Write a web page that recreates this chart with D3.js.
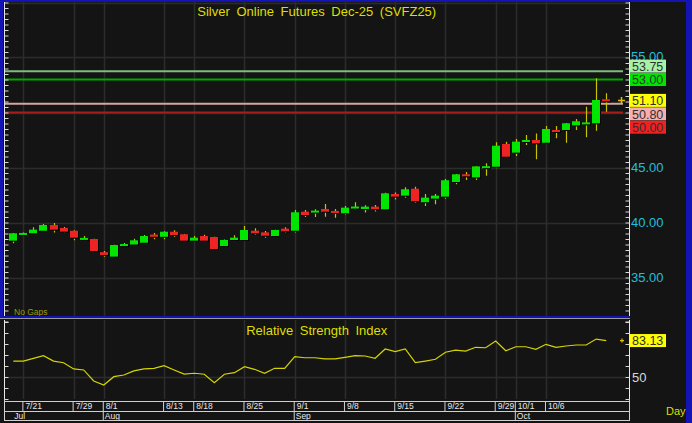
<!DOCTYPE html>
<html><head><meta charset="utf-8">
<script src="https://cdn.jsdelivr.net/npm/d3@7"></script>
<style>html,body{margin:0;padding:0;background:#141414;overflow:hidden}svg{display:block}</style>
</head><body><svg id="c" width="692" height="423"></svg>
<script>
// ---------------- DATA ----------------
const dates = ["2025-07-18","2025-07-21","2025-07-22","2025-07-23","2025-07-24","2025-07-25","2025-07-29","2025-07-30","2025-07-31","2025-08-01",
"2025-08-04","2025-08-05","2025-08-06","2025-08-07","2025-08-08","2025-08-13","2025-08-14","2025-08-15","2025-08-18","2025-08-19",
"2025-08-20","2025-08-21","2025-08-22","2025-08-25","2025-08-26","2025-08-27","2025-08-28","2025-08-29","2025-09-01","2025-09-02",
"2025-09-03","2025-09-04","2025-09-05","2025-09-08","2025-09-09","2025-09-10","2025-09-11","2025-09-12","2025-09-15","2025-09-16",
"2025-09-17","2025-09-18","2025-09-19","2025-09-22","2025-09-23","2025-09-24","2025-09-25","2025-09-26","2025-09-29","2025-09-30",
"2025-10-01","2025-10-02","2025-10-03","2025-10-06","2025-10-07","2025-10-08","2025-10-09","2025-10-10","2025-10-13","2025-10-14"];
const open  = [38.35,39.00,39.02,39.25,39.77,39.50,39.25,38.55,38.50,37.30, 36.90,37.86,38.00,38.16,38.90,38.70,39.16,38.93,38.35,38.77,
               38.68,37.86,38.41,38.41,39.25,39.10,38.77,39.44,39.25,40.98, 40.92,41.23,41.05,40.84,41.38,41.23,41.44,41.20,42.59,42.44,
               43.07,41.84,42.17,42.35,43.68,44.38,44.10,45.00,45.07,47.14, 46.35,47.35,47.50,47.25,48.41,48.41,48.83,49.00,49.02,51.20];
const high  = [39.05,39.10,39.56,39.86,39.95,39.60,39.30,38.77,38.52,37.41, 37.97,38.14,38.53,38.86,39.04,39.20,39.30,38.95,38.77,38.89,
               38.70,38.45,38.84,39.68,39.48,39.22,39.34,39.56,41.14,41.14, 41.20,41.68,41.23,41.50,41.84,41.56,41.60,42.70,42.73,43.20,
               43.26,42.59,42.60,43.96,44.40,44.60,45.12,45.38,47.29,47.35, 47.60,47.95,48.10,48.77,48.77,49.05,49.40,50.53,53.11,51.75];
const low   = [38.11,38.80,39.00,39.20,39.10,39.10,38.38,38.40,37.38,36.89, 36.88,37.84,37.98,38.14,38.47,38.47,38.70,38.33,38.33,38.33,
               37.50,37.80,38.39,38.35,38.89,38.62,38.75,39.10,39.10,40.50, 40.50,40.52,40.43,40.70,41.20,40.90,41.00,41.18,42.10,42.26,
               41.80,41.50,41.66,42.17,43.48,43.86,43.86,44.25,44.93,45.90, 46.05,47.05,45.75,47.23,47.65,47.25,48.41,47.75,48.35,50.07];
const close = [39.02,39.05,39.35,39.77,39.35,39.17,38.62,38.60,37.41,37.05, 37.95,38.04,38.38,38.77,38.70,39.16,38.86,38.35,38.62,38.35,
               37.59,38.41,38.62,39.32,39.02,38.80,39.32,39.20,40.93,40.68, 41.08,40.98,40.98,41.35,41.45,41.44,41.20,42.65,42.35,43.02,
               41.93,42.26,42.44,43.84,44.38,44.20,45.10,45.12,46.98,45.98, 47.35,47.50,47.20,48.50,48.26,49.02,49.20,49.10,51.14,51.10];
const rsi   = [64.5,64.5,67.0,69.4,64.5,63.0,57.3,56.4,46.4,42.7, 50.3,51.8,55.5,57.3,57.9,60.3,56.4,52.7,53.4,52.5,
               44.8,52.5,53.9,59.4,57.0,53.4,57.9,57.9,68.5,67.5, 67.5,66.4,66.4,67.9,69.4,69.1,67.0,75.5,73.0,75.5,
               63.0,64.5,66.1,72.5,74.5,73.6,77.0,76.6,82.7,73.9, 77.5,77.5,75.2,79.7,77.0,78.2,79.1,79.1,84.5,83.13];
const tickDates  = ["2025-07-21","2025-07-29","2025-08-01","2025-08-13","2025-08-18","2025-08-25","2025-09-01","2025-09-08","2025-09-15","2025-09-22","2025-09-29","2025-10-01","2025-10-06"];
const tickLabels = ["7/21","7/29","8/1","8/13","8/18","8/25","9/1","9/8","9/15","9/22","9/29","10/1","10/6"];
const monthStarts = ["2025-07-18","2025-08-01","2025-09-01","2025-10-01"];
const monthLabels = ["Jul","Aug","Sep","Oct"];
const priceTicks = [35,40,45,50,55];
const priceLabels = [35,40,45,55];
const levelValues = [53.75,53.00,50.80,50.00];
const lastPrice = 51.10;
const lastRsi = 83.13;
const title = "Silver Online Futures Dec-25 (SVFZ25)";
const rsiTitle = "Relative Strength Index";

// ---------------- LAYOUT ----------------
const svg = d3.select("#c");
const W = 692, H = 423;
const L = 4.5, R = 629;
const mainTop = 2, mainBot = 316, rsiTop = 320, rsiBot = 399;
const bg = "#141414", grid = "#2c2c2c", wick = "#c4c400", up = "#00e600", dn = "#ee2424";
const font = "'Liberation Sans', Arial, sans-serif";

svg.append("rect").attr("width", W).attr("height", H).attr("fill", bg);

const x = d3.scaleBand().domain(dates).range([8.3, 611.3]);
const cx = d => x(d) + x.bandwidth() / 2;
const y = d3.scaleLinear().domain([30, 60]).range([332.5, 2.5]);
const yr = d3.scaleLinear().domain([0, 100]).range([432, 322]);

const defs = svg.append("defs");
defs.append("clipPath").attr("id", "cm").append("rect").attr("x", L).attr("y", mainTop).attr("width", R - L).attr("height", mainBot - mainTop);
defs.append("clipPath").attr("id", "cr").append("rect").attr("x", L).attr("y", rsiTop).attr("width", R - L).attr("height", rsiBot - rsiTop);

// ---------- main panel ----------
const gm = svg.append("g").attr("clip-path", "url(#cm)");
gm.selectAll("line.hg").data(priceTicks.concat([60])).join("line")
  .attr("x1", L).attr("x2", R).attr("y1", d => Math.round(y(d)) + 0.5).attr("y2", d => Math.round(y(d)) + 0.5)
  .attr("stroke", grid).attr("stroke-width", 1.5);
gm.selectAll("line.vg").data(tickDates).join("line")
  .attr("x1", d => Math.round(cx(d)) + 0.5).attr("x2", d => Math.round(cx(d)) + 0.5).attr("y1", mainTop).attr("y2", mainBot)
  .attr("stroke", grid).attr("stroke-width", 1.5);

// level lines
const lineColors = ["#80bc80", "#00a800", "#d4a4a4", "#a81c1c"];
gm.selectAll("line.lv").data(levelValues).join("line")
  .attr("x1", L).attr("x2", 623).attr("y1", d => y(d)).attr("y2", d => y(d))
  .attr("stroke", (d, i) => lineColors[i]).attr("stroke-width", 2);

// candles
const idx = d3.range(dates.length);
const bw = 8;
gm.selectAll("line.wk").data(idx).join("line")
  .attr("x1", i => Math.round(cx(dates[i])) + 0.5).attr("x2", i => Math.round(cx(dates[i])) + 0.5)
  .attr("y1", i => y(high[i])).attr("y2", i => y(low[i]))
  .attr("stroke", wick).attr("stroke-width", 1.2);
const bodyTop = i => Math.min(y(open[i]), y(close[i]));
const bodyH = i => Math.max(2, Math.abs(y(open[i]) - y(close[i])));
gm.selectAll("rect.sh").data(idx).join("rect")
  .attr("x", i => Math.round(cx(dates[i])) - bw / 2 + 1).attr("y", i => bodyTop(i) + 1)
  .attr("width", bw).attr("height", bodyH).attr("fill", "#000");
gm.selectAll("rect.bd").data(idx).join("rect")
  .attr("x", i => Math.round(cx(dates[i])) - bw / 2).attr("y", bodyTop)
  .attr("width", bw).attr("height", bodyH)
  .attr("fill", i => close[i] >= open[i] ? up : dn);

// title
svg.append("text").attr("x", (L + R) / 2).attr("y", 16).attr("text-anchor", "middle")
  .attr("fill", "#dede00").attr("font-family", font).attr("font-size", 13).attr("word-spacing", 3).text(title);
svg.append("text").attr("x", 14).attr("y", 315).attr("fill", "#9a9a10").attr("font-family", font).attr("font-size", 8.5).text("No Gaps");

// main axes
const rAx = svg.append("g").attr("transform", `translate(${R + 0.5},0)`)
  .call(d3.axisLeft(y).tickValues(d3.range(31, 60.01, 0.5)).tickSize(4).tickFormat(""));
rAx.select(".domain").attr("d", `M0,${mainTop}V${mainBot}`).attr("stroke", "#e8e8e8");
rAx.selectAll(".tick line").attr("stroke", "#d8d8d8");
const lAx = svg.append("g").attr("transform", `translate(${L},0)`)
  .call(d3.axisRight(y).tickValues(d3.range(31, 60.01, 0.5)).tickSize(4).tickFormat(""));
lAx.select(".domain").attr("d", `M0,${mainTop}V${mainBot}`).attr("stroke", "#e8e8e8");
lAx.selectAll(".tick line").attr("stroke", "#d8d8d8");
const rLab = svg.append("g").attr("transform", `translate(${R},0)`)
  .call(d3.axisRight(y).tickValues(priceLabels).tickSize(0).tickPadding(2).tickFormat(d3.format(".2f")));
rLab.select(".domain").remove();
rLab.selectAll("text").attr("fill", "#22bedc").attr("font-family", font).attr("font-size", 13)
  .attr("dy", d => d === 55 ? "0.22em" : "0.32em");

// level label boxes (stacked to avoid overlap around the last price)
const boxColors = ["#a6f2a6", "#00e400", "#f6aeae", "#ee2222"];
const gap = 13.4;
const pos = {};
pos[lastPrice] = y(lastPrice);
let prev = y(lastPrice);
levelValues.filter(v => v > lastPrice).sort((a, b) => a - b).forEach(v => { const p = Math.min(y(v), prev - gap); pos[v] = p; prev = p; });
prev = y(lastPrice);
levelValues.filter(v => v < lastPrice).sort((a, b) => b - a).forEach(v => { const p = Math.max(y(v), prev + gap); pos[v] = p; prev = p; });
const labels = levelValues.map((v, i) => ({ v, c: boxColors[i] })).concat([{ v: lastPrice, c: "#ffff00" }]);
const lb = svg.append("g").selectAll("g").data(labels).join("g").attr("transform", d => `translate(${R + 1},${pos[d.v]})`);
lb.append("rect").attr("x", 0).attr("y", -6.5).attr("width", 36).attr("height", 13).attr("fill", d => d.c);
lb.append("text").attr("x", 2).attr("y", 4.8).attr("fill", "#303030").attr("font-family", font).attr("font-size", 12.5).text(d => d3.format(".2f")(d.v));
// last price marker
svg.append("path").attr("d", `M${R - 11},${y(lastPrice)}h7M${R - 7.5},${y(lastPrice) - 3.5}v7`).attr("stroke", "#e0c000").attr("stroke-width", 1.5);

// ---------- separator ----------
svg.append("rect").attr("x", 0).attr("y", mainBot).attr("width", R + 1).attr("height", 2).attr("fill", "#1414b4");
svg.append("rect").attr("x", 0).attr("y", mainBot + 2).attr("width", R + 1).attr("height", 1).attr("fill", "#9a9a9a");

// ---------- RSI panel ----------
const gr = svg.append("g").attr("clip-path", "url(#cr)");
gr.append("line").attr("x1", L).attr("x2", R).attr("y1", Math.round(yr(50)) + 0.5).attr("y2", Math.round(yr(50)) + 0.5).attr("stroke", grid).attr("stroke-width", 1.5);
gr.selectAll("line.vg").data(tickDates).join("line")
  .attr("x1", d => Math.round(cx(d)) + 0.5).attr("x2", d => Math.round(cx(d)) + 0.5).attr("y1", rsiTop).attr("y2", rsiBot)
  .attr("stroke", grid).attr("stroke-width", 1.5);
gr.append("path").datum(idx)
  .attr("d", d3.line().x(i => cx(dates[i])).y(i => yr(rsi[i])))
  .attr("fill", "none").attr("stroke", "#d4d400").attr("stroke-width", 1.2);
svg.append("text").attr("x", (L + R) / 2).attr("y", 335).attr("text-anchor", "middle")
  .attr("fill", "#dede00").attr("font-family", font).attr("font-size", 13).attr("word-spacing", 3).text(rsiTitle);

const rrAx = svg.append("g").attr("transform", `translate(${R + 0.5},0)`)
  .call(d3.axisLeft(yr).tickValues(d3.range(10, 100.1, 10)).tickSize(4).tickFormat(""));
rrAx.select(".domain").attr("d", `M0,${rsiTop}V${rsiBot}`).attr("stroke", "#e8e8e8");
rrAx.selectAll(".tick line").attr("stroke", "#d8d8d8");
rrAx.selectAll(".tick").filter(d => yr(d) < rsiTop || yr(d) > rsiBot).remove();
const rlAx = svg.append("g").attr("transform", `translate(${L},0)`)
  .call(d3.axisRight(yr).tickValues(d3.range(10, 100.1, 10)).tickSize(4).tickFormat(""));
rlAx.select(".domain").attr("d", `M0,${rsiTop}V${rsiBot}`).attr("stroke", "#e8e8e8");
rlAx.selectAll(".tick line").attr("stroke", "#d8d8d8");
rlAx.selectAll(".tick").filter(d => yr(d) < rsiTop || yr(d) > rsiBot).remove();
const rrLab = svg.append("g").attr("transform", `translate(${R},0)`)
  .call(d3.axisRight(yr).tickValues([50]).tickSize(0).tickPadding(3).tickFormat(d3.format("d")));
rrLab.select(".domain").remove();
rrLab.selectAll("text").attr("fill", "#d8d8d8").attr("font-family", font).attr("font-size", 13);
const rb = svg.append("g").attr("transform", `translate(${R + 1},${yr(lastRsi)})`);
rb.append("rect").attr("y", -6.5).attr("width", 36).attr("height", 13).attr("fill", "#ffff00");
rb.append("text").attr("x", 2).attr("y", 4.8).attr("fill", "#303030").attr("font-family", font).attr("font-size", 12.5).text(d3.format(".2f")(lastRsi));
svg.append("path").attr("d", `M${R - 9},${yr(lastRsi)}h4M${R - 7},${yr(lastRsi) - 2}v4`).attr("stroke", "#e0c000").attr("stroke-width", 1.2);

// ---------- date axis ----------
const axY = 401;
svg.append("line").attr("x1", L).attr("x2", R).attr("y1", axY + 0.5).attr("y2", axY + 0.5).attr("stroke", "#d0d0d0");
const dAx = svg.append("g").attr("transform", `translate(0,${axY})`)
  .call(d3.axisBottom(x).tickValues(tickDates).tickSize(10).tickFormat((d, i) => tickLabels[i]));
dAx.select(".domain").remove();
dAx.selectAll(".tick line").attr("stroke", "#d0d0d0").attr("transform", "translate(-0.5,0)");
dAx.selectAll(".tick text").attr("text-anchor", "start").attr("x", 2).attr("y", 1.5).attr("dy", "0.71em")
  .attr("fill", "#e8e8e8").attr("font-family", font).attr("font-size", 8.5);
svg.append("line").attr("x1", L).attr("x2", R).attr("y1", axY + 10.5).attr("y2", axY + 10.5).attr("stroke", "#d0d0d0");
const mAx = svg.append("g").attr("transform", `translate(0,${axY + 10})`)
  .call(d3.axisBottom(x).tickValues(monthStarts).tickSize(9).tickFormat((d, i) => monthLabels[i]));
mAx.select(".domain").remove();
mAx.selectAll(".tick line").attr("stroke", "#d0d0d0").attr("transform", "translate(-0.5,0)").filter((d, i) => i === 0).remove();
mAx.selectAll(".tick text").attr("text-anchor", "start").attr("x", 1).attr("y", 1.5).attr("dy", "0.71em")
  .attr("fill", "#e8e8e8").attr("font-family", font).attr("font-size", 8.5);
svg.append("line").attr("x1", L).attr("x2", R).attr("y1", axY + 19.5).attr("y2", axY + 19.5).attr("stroke", "#d0d0d0");
svg.append("line").attr("x1", L).attr("x2", L).attr("y1", rsiBot).attr("y2", axY + 20).attr("stroke", "#d0d0d0");
svg.append("line").attr("x1", R + 0.5).attr("x2", R + 0.5).attr("y1", rsiBot).attr("y2", axY + 20).attr("stroke", "#d0d0d0");
svg.append("text").attr("x", 666).attr("y", 415).attr("fill", "#dede00").attr("font-family", font).attr("font-size", 11).text("Day");

// ---------- window frame ----------
svg.append("rect").attr("x", 0).attr("y", 0).attr("width", W).attr("height", 2).attr("fill", "#1414b4");
svg.append("rect").attr("x", 0).attr("y", 0).attr("width", 3).attr("height", mainBot).attr("fill", "#1414b4");
svg.append("rect").attr("x", 686).attr("y", 0).attr("width", 6).attr("height", H).attr("fill", "#1414b4");
</script></body></html>
